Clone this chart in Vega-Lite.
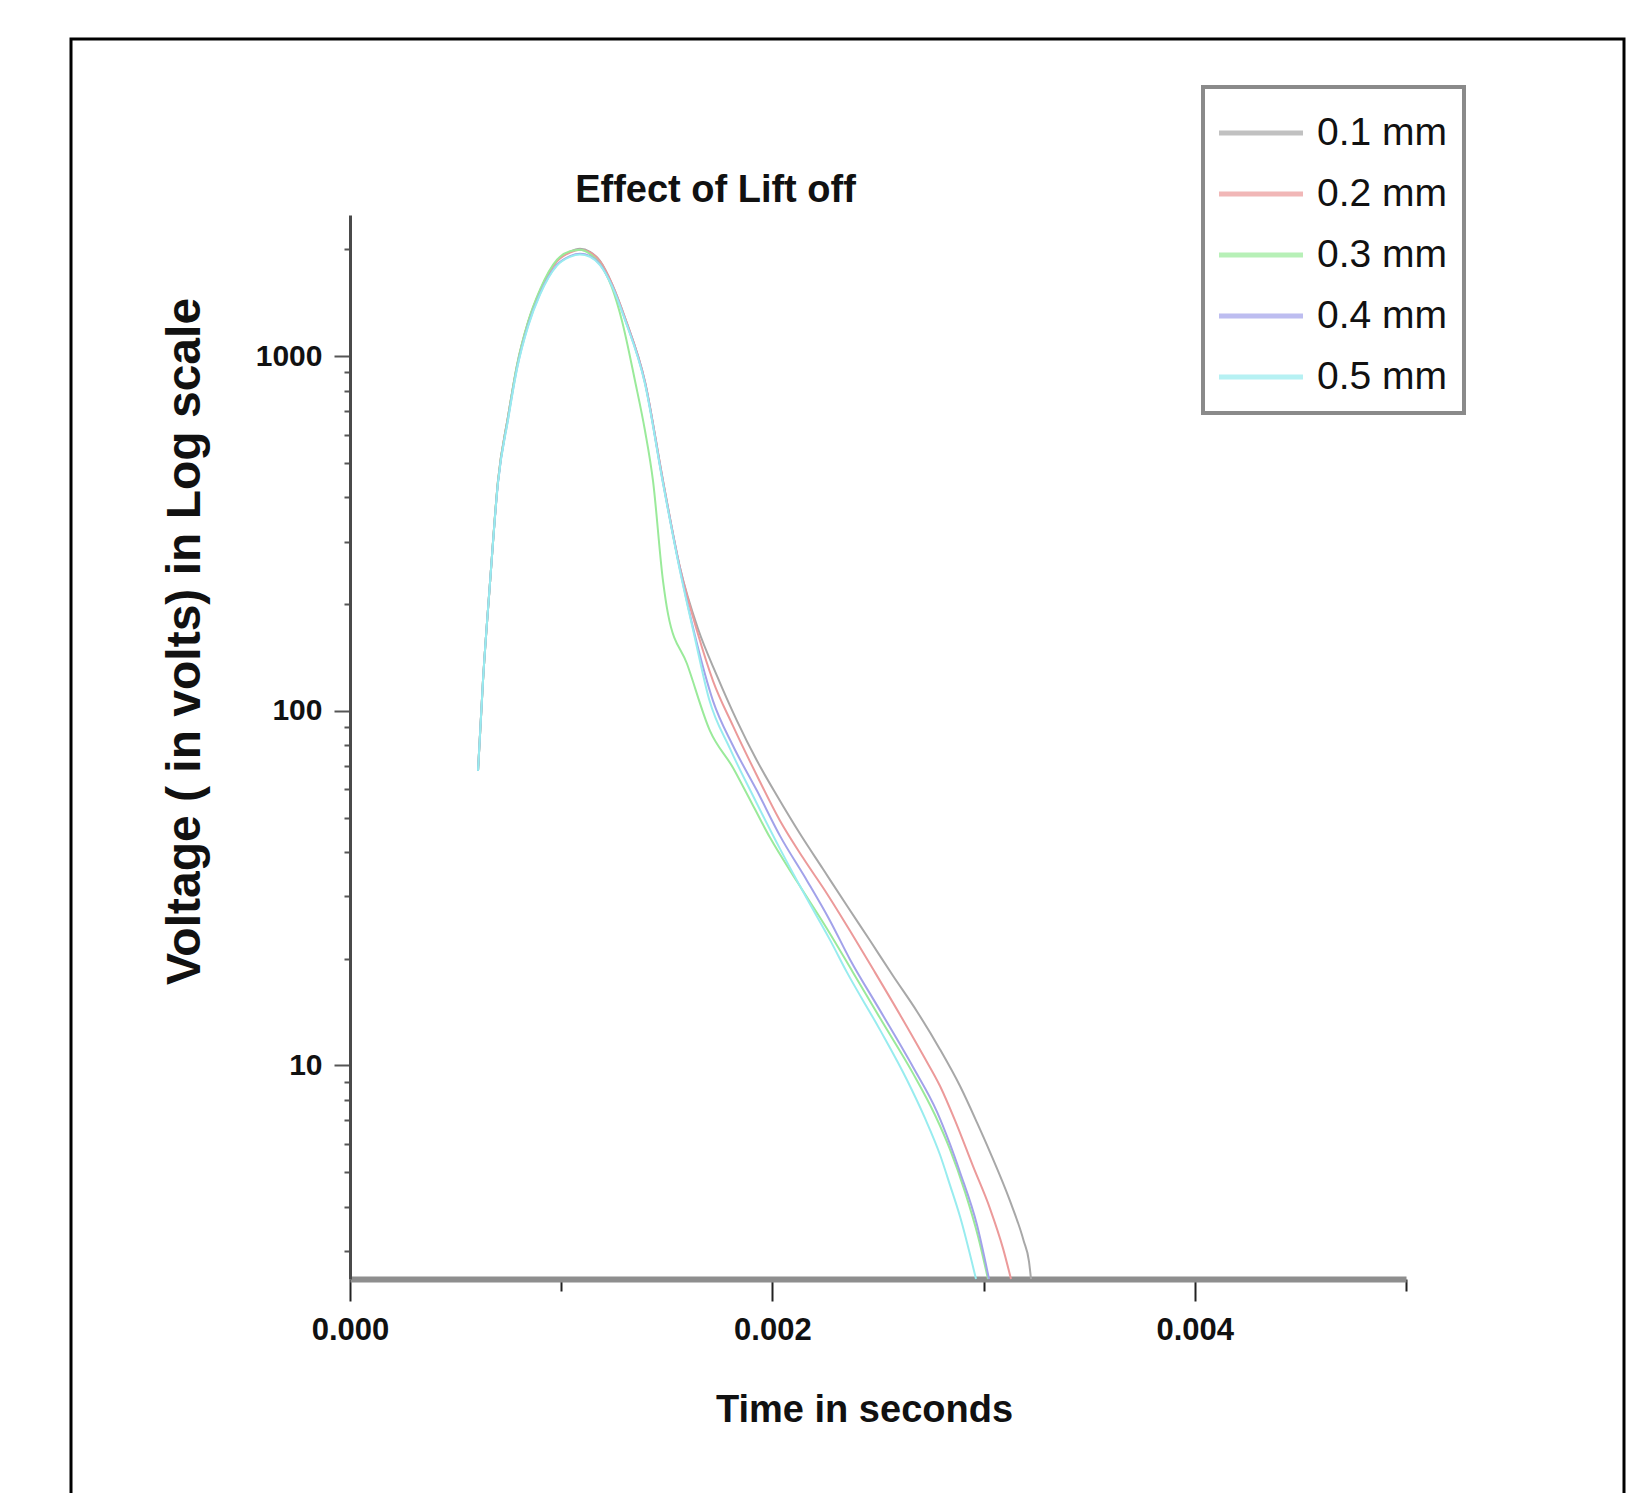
{
  "$schema": "https://vega.github.io/schema/vega-lite/v6.json",
  "width": 1553,
  "height": 1454,
  "autosize": {"type": "none"},
  "padding": {"left": 71, "top": 39, "right": 24, "bottom": 0},
  "background": "white",
  "title": {"text": "Effect of Lift off", "anchor": "middle", "frame": "group", "orient": "top", "offset": 0, "dx": -132, "dy": 201, "baseline": "alphabetic", "font": "Liberation Sans, Arial, sans-serif", "fontSize": 38, "fontWeight": "bold", "color": "#111111"},
  "data": {"values": [
    {"s": "0.1 mm", "t": 0.0006061, "v": 67.7},
    {"s": "0.1 mm", "t": 0.0006297, "v": 121.5},
    {"s": "0.1 mm", "t": 0.0006629, "v": 229.5},
    {"s": "0.1 mm", "t": 0.0007008, "v": 445},
    {"s": "0.1 mm", "t": 0.0007481, "v": 674},
    {"s": "0.1 mm", "t": 0.0007907, "v": 939},
    {"s": "0.1 mm", "t": 0.0008428, "v": 1241},
    {"s": "0.1 mm", "t": 0.0008996, "v": 1528},
    {"s": "0.1 mm", "t": 0.0009801, "v": 1856},
    {"s": "0.1 mm", "t": 0.0010417, "v": 1969},
    {"s": "0.1 mm", "t": 0.0010890, "v": 2007},
    {"s": "0.1 mm", "t": 0.0011364, "v": 1969},
    {"s": "0.1 mm", "t": 0.0011837, "v": 1856},
    {"s": "0.1 mm", "t": 0.0012405, "v": 1599},
    {"s": "0.1 mm", "t": 0.0013021, "v": 1282},
    {"s": "0.1 mm", "t": 0.0013968, "v": 846},
    {"s": "0.1 mm", "t": 0.0014820, "v": 445},
    {"s": "0.1 mm", "t": 0.0015625, "v": 253},
    {"s": "0.1 mm", "t": 0.0016477, "v": 170.3},
    {"s": "0.1 mm", "t": 0.0017377, "v": 125.5},
    {"s": "0.1 mm", "t": 0.0018324, "v": 93.7},
    {"s": "0.1 mm", "t": 0.0019271, "v": 72.3},
    {"s": "0.1 mm", "t": 0.0020218, "v": 57.6},
    {"s": "0.1 mm", "t": 0.0021307, "v": 45.0},
    {"s": "0.1 mm", "t": 0.0022396, "v": 35.8},
    {"s": "0.1 mm", "t": 0.0023532, "v": 28.2},
    {"s": "0.1 mm", "t": 0.0024621, "v": 22.5},
    {"s": "0.1 mm", "t": 0.0025710, "v": 17.9},
    {"s": "0.1 mm", "t": 0.0026847, "v": 14.2},
    {"s": "0.1 mm", "t": 0.0027936, "v": 11.1},
    {"s": "0.1 mm", "t": 0.0028883, "v": 8.75},
    {"s": "0.1 mm", "t": 0.0029688, "v": 6.9},
    {"s": "0.1 mm", "t": 0.0030303, "v": 5.7},
    {"s": "0.1 mm", "t": 0.0031250, "v": 4.15},
    {"s": "0.1 mm", "t": 0.0031900, "v": 3.2},
    {"s": "0.1 mm", "t": 0.0032150, "v": 2.8},
    {"s": "0.1 mm", "t": 0.0032244, "v": 2.5},

    {"s": "0.2 mm", "t": 0.0006061, "v": 67.7},
    {"s": "0.2 mm", "t": 0.0006297, "v": 121.5},
    {"s": "0.2 mm", "t": 0.0006629, "v": 229.5},
    {"s": "0.2 mm", "t": 0.0007008, "v": 445},
    {"s": "0.2 mm", "t": 0.0007481, "v": 674},
    {"s": "0.2 mm", "t": 0.0007907, "v": 939},
    {"s": "0.2 mm", "t": 0.0008428, "v": 1241},
    {"s": "0.2 mm", "t": 0.0008996, "v": 1528},
    {"s": "0.2 mm", "t": 0.0009801, "v": 1850},
    {"s": "0.2 mm", "t": 0.0010417, "v": 1960},
    {"s": "0.2 mm", "t": 0.0010890, "v": 1995},
    {"s": "0.2 mm", "t": 0.0011364, "v": 1960},
    {"s": "0.2 mm", "t": 0.0011837, "v": 1850},
    {"s": "0.2 mm", "t": 0.0012405, "v": 1599},
    {"s": "0.2 mm", "t": 0.0013021, "v": 1282},
    {"s": "0.2 mm", "t": 0.0013968, "v": 846},
    {"s": "0.2 mm", "t": 0.0014820, "v": 445},
    {"s": "0.2 mm", "t": 0.0015625, "v": 253},
    {"s": "0.2 mm", "t": 0.0016430, "v": 168.1},
    {"s": "0.2 mm", "t": 0.0017187, "v": 121.5},
    {"s": "0.2 mm", "t": 0.0018134, "v": 90.7},
    {"s": "0.2 mm", "t": 0.0019271, "v": 65.6},
    {"s": "0.2 mm", "t": 0.0020360, "v": 48.97},
    {"s": "0.2 mm", "t": 0.0021449, "v": 38.5},
    {"s": "0.2 mm", "t": 0.0022585, "v": 30.5},
    {"s": "0.2 mm", "t": 0.0023674, "v": 23.98},
    {"s": "0.2 mm", "t": 0.0024763, "v": 18.7},
    {"s": "0.2 mm", "t": 0.0026042, "v": 13.9},
    {"s": "0.2 mm", "t": 0.0027131, "v": 10.7},
    {"s": "0.2 mm", "t": 0.0027936, "v": 8.75},
    {"s": "0.2 mm", "t": 0.0028646, "v": 7.0},
    {"s": "0.2 mm", "t": 0.0029498, "v": 5.2},
    {"s": "0.2 mm", "t": 0.0030303, "v": 3.95},
    {"s": "0.2 mm", "t": 0.0030919, "v": 3.05},
    {"s": "0.2 mm", "t": 0.0031297, "v": 2.5},

    {"s": "0.3 mm", "t": 0.0006061, "v": 67.7},
    {"s": "0.3 mm", "t": 0.0006297, "v": 121.5},
    {"s": "0.3 mm", "t": 0.0006629, "v": 229.5},
    {"s": "0.3 mm", "t": 0.0007008, "v": 445},
    {"s": "0.3 mm", "t": 0.0007481, "v": 674},
    {"s": "0.3 mm", "t": 0.0007907, "v": 945},
    {"s": "0.3 mm", "t": 0.0008428, "v": 1250},
    {"s": "0.3 mm", "t": 0.0008996, "v": 1540},
    {"s": "0.3 mm", "t": 0.0009801, "v": 1870},
    {"s": "0.3 mm", "t": 0.0010417, "v": 1975},
    {"s": "0.3 mm", "t": 0.0010890, "v": 1995},
    {"s": "0.3 mm", "t": 0.0011364, "v": 1940},
    {"s": "0.3 mm", "t": 0.0011837, "v": 1820},
    {"s": "0.3 mm", "t": 0.0012405, "v": 1560},
    {"s": "0.3 mm", "t": 0.0012879, "v": 1257},
    {"s": "0.3 mm", "t": 0.0013494, "v": 852},
    {"s": "0.3 mm", "t": 0.0013968, "v": 616},
    {"s": "0.3 mm", "t": 0.0014347, "v": 445},
    {"s": "0.3 mm", "t": 0.0014820, "v": 232.6},
    {"s": "0.3 mm", "t": 0.0015057, "v": 187.7},
    {"s": "0.3 mm", "t": 0.0015956, "v": 135.7},
    {"s": "0.3 mm", "t": 0.0017045, "v": 87.8},
    {"s": "0.3 mm", "t": 0.0018134, "v": 69.1},
    {"s": "0.3 mm", "t": 0.0018797, "v": 58.3},
    {"s": "0.3 mm", "t": 0.0019886, "v": 43.9},
    {"s": "0.3 mm", "t": 0.0021165, "v": 33.0},
    {"s": "0.3 mm", "t": 0.0022585, "v": 24.3},
    {"s": "0.3 mm", "t": 0.0023816, "v": 18.3},
    {"s": "0.3 mm", "t": 0.0025095, "v": 13.6},
    {"s": "0.3 mm", "t": 0.0026657, "v": 9.5},
    {"s": "0.3 mm", "t": 0.0027699, "v": 7.25},
    {"s": "0.3 mm", "t": 0.0028409, "v": 5.8},
    {"s": "0.3 mm", "t": 0.0029119, "v": 4.4},
    {"s": "0.3 mm", "t": 0.0029735, "v": 3.3},
    {"s": "0.3 mm", "t": 0.0030208, "v": 2.5},

    {"s": "0.4 mm", "t": 0.0006061, "v": 67.7},
    {"s": "0.4 mm", "t": 0.0006297, "v": 121.5},
    {"s": "0.4 mm", "t": 0.0006629, "v": 229.5},
    {"s": "0.4 mm", "t": 0.0007008, "v": 440},
    {"s": "0.4 mm", "t": 0.0007481, "v": 665},
    {"s": "0.4 mm", "t": 0.0007907, "v": 925},
    {"s": "0.4 mm", "t": 0.0008428, "v": 1220},
    {"s": "0.4 mm", "t": 0.0008996, "v": 1500},
    {"s": "0.4 mm", "t": 0.0009801, "v": 1810},
    {"s": "0.4 mm", "t": 0.0010417, "v": 1915},
    {"s": "0.4 mm", "t": 0.0010890, "v": 1945},
    {"s": "0.4 mm", "t": 0.0011364, "v": 1915},
    {"s": "0.4 mm", "t": 0.0011837, "v": 1815},
    {"s": "0.4 mm", "t": 0.0012405, "v": 1580},
    {"s": "0.4 mm", "t": 0.0013021, "v": 1270},
    {"s": "0.4 mm", "t": 0.0013968, "v": 840},
    {"s": "0.4 mm", "t": 0.0014820, "v": 440},
    {"s": "0.4 mm", "t": 0.0015625, "v": 250},
    {"s": "0.4 mm", "t": 0.0016335, "v": 162.7},
    {"s": "0.4 mm", "t": 0.0017187, "v": 106.7},
    {"s": "0.4 mm", "t": 0.0018134, "v": 79.7},
    {"s": "0.4 mm", "t": 0.0019271, "v": 59.5},
    {"s": "0.4 mm", "t": 0.0020360, "v": 44.4},
    {"s": "0.4 mm", "t": 0.0021638, "v": 33.2},
    {"s": "0.4 mm", "t": 0.0022727, "v": 25.6},
    {"s": "0.4 mm", "t": 0.0023674, "v": 19.9},
    {"s": "0.4 mm", "t": 0.0025095, "v": 14.3},
    {"s": "0.4 mm", "t": 0.0026657, "v": 9.9},
    {"s": "0.4 mm", "t": 0.0027794, "v": 7.4},
    {"s": "0.4 mm", "t": 0.0028409, "v": 6.0},
    {"s": "0.4 mm", "t": 0.0028883, "v": 5.0},
    {"s": "0.4 mm", "t": 0.0029688, "v": 3.55},
    {"s": "0.4 mm", "t": 0.0030256, "v": 2.5},

    {"s": "0.5 mm", "t": 0.0006061, "v": 67.7},
    {"s": "0.5 mm", "t": 0.0006297, "v": 121.5},
    {"s": "0.5 mm", "t": 0.0006629, "v": 229.5},
    {"s": "0.5 mm", "t": 0.0007008, "v": 440},
    {"s": "0.5 mm", "t": 0.0007481, "v": 660},
    {"s": "0.5 mm", "t": 0.0007907, "v": 920},
    {"s": "0.5 mm", "t": 0.0008428, "v": 1210},
    {"s": "0.5 mm", "t": 0.0008996, "v": 1490},
    {"s": "0.5 mm", "t": 0.0009801, "v": 1800},
    {"s": "0.5 mm", "t": 0.0010417, "v": 1905},
    {"s": "0.5 mm", "t": 0.0010890, "v": 1935},
    {"s": "0.5 mm", "t": 0.0011364, "v": 1905},
    {"s": "0.5 mm", "t": 0.0011837, "v": 1805},
    {"s": "0.5 mm", "t": 0.0012405, "v": 1575},
    {"s": "0.5 mm", "t": 0.0013021, "v": 1265},
    {"s": "0.5 mm", "t": 0.0013968, "v": 835},
    {"s": "0.5 mm", "t": 0.0014820, "v": 438},
    {"s": "0.5 mm", "t": 0.0015625, "v": 248},
    {"s": "0.5 mm", "t": 0.0016335, "v": 160},
    {"s": "0.5 mm", "t": 0.0017000, "v": 108},
    {"s": "0.5 mm", "t": 0.0017992, "v": 78.2},
    {"s": "0.5 mm", "t": 0.0019081, "v": 57.6},
    {"s": "0.5 mm", "t": 0.0020360, "v": 40.8},
    {"s": "0.5 mm", "t": 0.0021638, "v": 29.5},
    {"s": "0.5 mm", "t": 0.0022727, "v": 22.6},
    {"s": "0.5 mm", "t": 0.0023532, "v": 18.3},
    {"s": "0.5 mm", "t": 0.0025095, "v": 12.6},
    {"s": "0.5 mm", "t": 0.0026373, "v": 9.1},
    {"s": "0.5 mm", "t": 0.0027225, "v": 7.1},
    {"s": "0.5 mm", "t": 0.0027936, "v": 5.6},
    {"s": "0.5 mm", "t": 0.0028409, "v": 4.6},
    {"s": "0.5 mm", "t": 0.0028883, "v": 3.75},
    {"s": "0.5 mm", "t": 0.0029640, "v": 2.5}
  ]},
  "mark": {"type": "line", "strokeWidth": 2, "interpolate": "monotone"},
  "encoding": {
    "x": {
      "field": "t", "type": "quantitative",
      "scale": {"domain": [0, 0.005], "range": [279, 1335], "nice": false, "zero": false},
      "axis": {
        "orient": "bottom", "offset": -214,
        "values": [0, 0.001, 0.002, 0.003, 0.004, 0.005],
        "format": ".3f",
        "labelExpr": "indexof([0, 0.002, 0.004], datum.value) >= 0 ? datum.label : ''",
        "tickSize": {"condition": {"test": "indexof([0, 0.002, 0.004], datum.value) >= 0", "value": 22}, "value": 12},
        "tickWidth": 2, "tickColor": "#222222",
        "domainColor": "#8e8e8e", "domainWidth": 6,
        "labelFont": "Liberation Sans, Arial, sans-serif",
        "labelFontWeight": "bold", "labelFontSize": 31, "labelColor": "#111111", "labelPadding": 14,
        "labelOverlap": false, "labelFlush": false, "labelBound": false,
        "grid": false,
        "title": "Time in seconds",
        "titleFont": "Liberation Sans, Arial, sans-serif",
        "titleFontWeight": "bold", "titleFontSize": 38, "titleColor": "#111111",
        "titleX": 793, "titleY": 131, "titleBaseline": "middle", "titleAlign": "center"
      }
    },
    "y": {
      "field": "v", "type": "quantitative",
      "scale": {"type": "log", "domain": [2.5, 2500], "range": [1240, 176], "nice": false},
      "axis": {
        "orient": "left", "offset": -279,
        "values": [3, 4, 5, 6, 7, 8, 9, 10, 20, 30, 40, 50, 60, 70, 80, 90, 100, 200, 300, 400, 500, 600, 700, 800, 900, 1000, 2000],
        "labelExpr": "indexof([10, 100, 1000], datum.value) >= 0 ? format(datum.value, 'd') : ''",
        "tickSize": {"condition": {"test": "indexof([10, 100, 1000], datum.value) >= 0", "value": 16}, "value": 6},
        "tickWidth": 2, "tickColor": "#555555",
        "domainColor": "#4a4a4a", "domainWidth": 3,
        "labelFont": "Liberation Sans, Arial, sans-serif", "labelFontWeight": "bold", "labelFontSize": 30,
        "labelColor": "#111111", "labelPadding": 12, "labelOverlap": false, "labelBound": false,
        "grid": false,
        "title": "Voltage ( in volts) in Log scale",
        "titleFont": "Liberation Sans, Arial, sans-serif", "titleFontWeight": "bold", "titleFontSize": 48,
        "titleColor": "#111111", "titleX": -165, "titleY": 602, "titleAngle": 270,
        "titleBaseline": "middle", "titleAlign": "center"
      }
    },
    "color": {
      "field": "s", "type": "nominal",
      "scale": {"domain": ["0.1 mm", "0.2 mm", "0.3 mm", "0.4 mm", "0.5 mm"], "range": ["#a8a8a8", "#ec9a9a", "#9aea9a", "#a2a2ea", "#98ecef"]},
      "legend": {
        "orient": "none", "legendX": 1132, "legendY": 48,
        "title": null,
        "symbolType": "M-1.0909,0H1.9636", "symbolSize": 3025, "symbolStrokeWidth": 5, "symbolOpacity": 0.7,
        "symbolFillColor": "transparent",
        "labelOffset": 38,
        "labelFont": "Liberation Sans, Arial, sans-serif",
        "labelFontSize": 39, "labelColor": "#111111", "labelLimit": 400,
        "padding": 16, "rowPadding": 11,
        "strokeColor": "#8a8a8a", "fillColor": "white",
        "encode": {"legend": {"update": {"strokeWidth": {"value": 4}}}}
      }
    }
  },
  "config": {
    "view": {"stroke": "#000000", "strokeWidth": 3, "strokeDash": [3007, 1553, 1454]}
  }
}
